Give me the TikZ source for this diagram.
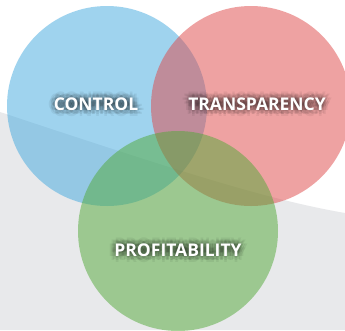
\documentclass[tikz,border=0pt]{standalone}
\usepackage{fontspec}
\setmainfont{Open Sans}

\definecolor{ctrlblue}{RGB}{65,169,223}
\definecolor{transpred}{RGB}{223,71,71}
\definecolor{profitgreen}{RGB}{81,169,55}
\definecolor{bggray}{RGB}{232,233,235}

% label with a soft dark glow: name, position, text
\newcommand{\glowlabel}[3]{%
    \foreach \a in {0,45,...,315}
        \foreach \r in {2,4,6}
            \node[lblglow] (#1-g\a-\r) at ([shift={(\a:\r)}] #2) {#3};
    \node[lbl] (#1) at (#2) {#3};
}

\begin{document}
\begin{tikzpicture}[x=1pt, y=-1pt,
        circ/.style={opacity=0.5},
        lblbase/.style={font=\bfseries\fontsize{17.5}{20}\selectfont, inner sep=0pt},
        lbl/.style={lblbase, text=white},
        lblglow/.style={lblbase, text=black, text opacity=0.06}]
        % Frame
        \useasboundingbox (0,0) rectangle (345,330);
        \clip (0,0) rectangle (345,330);
        \fill[white] (0,0) rectangle (345,330);

        % Background band
        \fill[bggray] (0,112) .. controls (190,175) and (270,200) .. (345,213)
            -- (345,330) -- (0,330) -- cycle;

        % Circles
        \fill[ctrlblue, circ] (107,106) circle (100);
        \fill[transpred, circ] (251,106) circle (100);
        \fill[profitgreen, circ] (178,231) circle (100);

        % Labels
        \glowlabel{ctrl}{96,104}{CONTROL}
        \glowlabel{transp}{257,104}{TRANSPARENCY}
        \glowlabel{profit}{178,250}{PROFITABILITY}
    \end{tikzpicture}
\end{document}
